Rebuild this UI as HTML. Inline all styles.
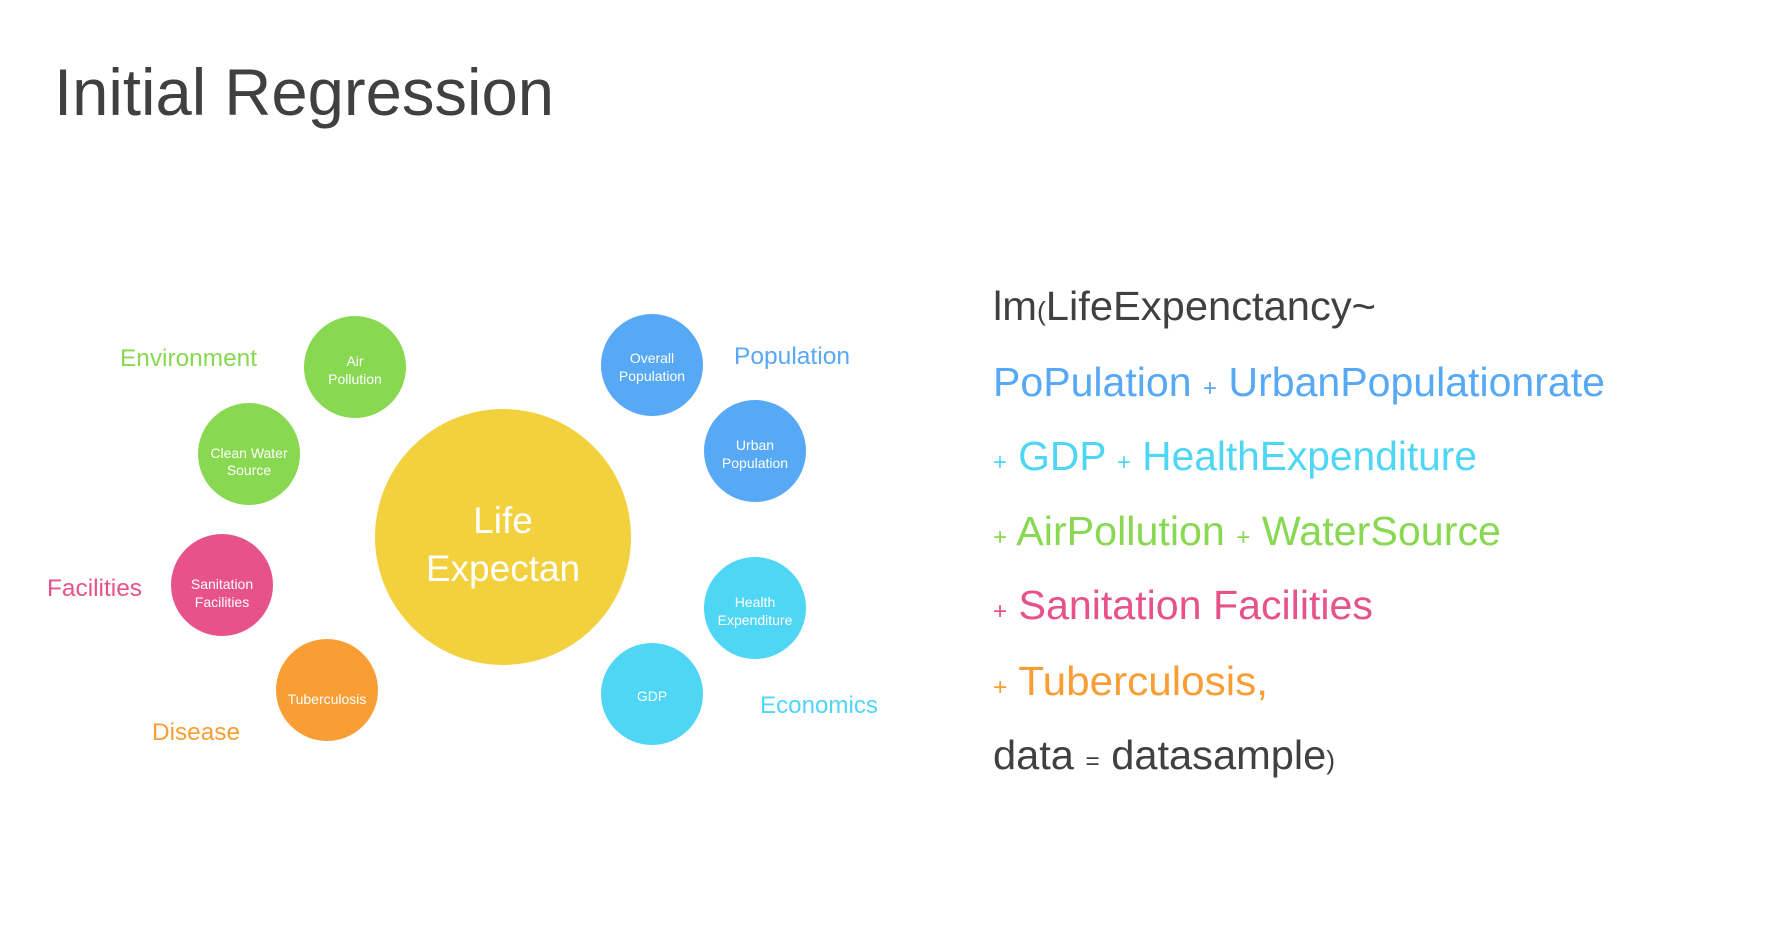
<!DOCTYPE html>
<html><head><meta charset="utf-8"><style>
html,body{margin:0;padding:0;background:#fff;}
svg{display:block;font-family:"Liberation Sans",sans-serif;}
</style></head><body>
<svg width="1782" height="944" viewBox="0 0 1782 944">
<text x="54" y="115" font-size="66" fill="#404040" textLength="500" lengthAdjust="spacingAndGlyphs">Initial Regression</text>

<g>
<circle cx="503" cy="537" r="128" fill="#F3D13E"/>
<text x="503" y="533" font-size="37" fill="#fff" text-anchor="middle">Life</text>
<text x="503" y="581" font-size="37" fill="#fff" text-anchor="middle">Expectan</text>
<g font-size="14" fill="#fff" text-anchor="middle">
<circle cx="355" cy="367" r="51" fill="#88D851"/>
<text x="355" y="366">Air</text><text x="355" y="384">Pollution</text>
<circle cx="249" cy="454" r="51" fill="#88D851"/>
<text x="249" y="458">Clean Water</text><text x="249" y="475">Source</text>
<circle cx="222" cy="585" r="51" fill="#E7528A"/>
<text x="222" y="589">Sanitation</text><text x="222" y="607">Facilities</text>
<circle cx="327" cy="690" r="51" fill="#F89E35"/>
<text x="327" y="704">Tuberculosis</text>
<circle cx="652" cy="365" r="51" fill="#57A8F5"/>
<text x="652" y="363">Overall</text><text x="652" y="381">Population</text>
<circle cx="755" cy="451" r="51" fill="#57A8F5"/>
<text x="755" y="450">Urban</text><text x="755" y="468">Population</text>
<circle cx="755" cy="608" r="51" fill="#4FD6F5"/>
<text x="755" y="607">Health</text><text x="755" y="625">Expenditure</text>
<circle cx="652" cy="694" r="51" fill="#4FD6F5"/>
<text x="652" y="701">GDP</text>
</g>
<g font-size="24">
<text x="120" y="366" fill="#88D851" textLength="137" lengthAdjust="spacingAndGlyphs">Environment</text>
<text x="734" y="364" fill="#57A8F5" textLength="116" lengthAdjust="spacingAndGlyphs">Population</text>
<text x="47" y="596" fill="#E7528A" textLength="95" lengthAdjust="spacingAndGlyphs">Facilities</text>
<text x="152" y="740" fill="#F89E35" textLength="88" lengthAdjust="spacingAndGlyphs">Disease</text>
<text x="760" y="713" fill="#4FD6F5" textLength="118" lengthAdjust="spacingAndGlyphs">Economics</text>
</g>
</g>

<g font-size="41">
<text x="993" y="320" fill="#404040" textLength="383" lengthAdjust="spacingAndGlyphs">lm<tspan font-size="26">(</tspan>LifeExpenctancy~</text>
<text x="993" y="396" fill="#57A8F5" textLength="612" lengthAdjust="spacingAndGlyphs">PoPulation <tspan font-size="24">+</tspan> UrbanPopulationrate</text>
<text x="993" y="470" fill="#4FD6F5" textLength="484" lengthAdjust="spacingAndGlyphs"><tspan font-size="24">+</tspan> GDP <tspan font-size="24">+</tspan> HealthExpenditure</text>
<text x="993" y="545" fill="#88D851" textLength="508" lengthAdjust="spacingAndGlyphs"><tspan font-size="24">+</tspan> AirPollution <tspan font-size="24">+</tspan> WaterSource</text>
<text x="993" y="619" fill="#E7528A" textLength="380" lengthAdjust="spacingAndGlyphs"><tspan font-size="24">+</tspan> Sanitation Facilities</text>
<text x="993" y="695" fill="#F89E35" textLength="275" lengthAdjust="spacingAndGlyphs"><tspan font-size="24">+</tspan> Tuberculosis,</text>
<text x="993" y="769" fill="#404040" textLength="342" lengthAdjust="spacingAndGlyphs">data <tspan font-size="24">=</tspan> datasample<tspan font-size="26">)</tspan></text>
</g>
</svg>
</body></html>
